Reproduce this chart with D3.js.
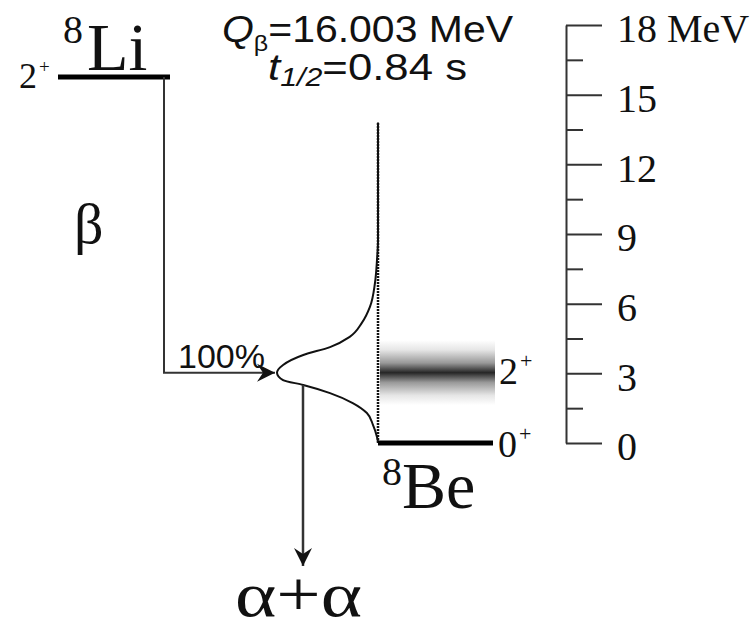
<!DOCTYPE html>
<html lang="en">
<head>
<meta charset="UTF-8">
<script src="https://d3js.org/d3.v7.min.js"></script>
<title>8Li beta decay</title>
<style>
  body { margin: 0; background: white; }
  .serif { font-family: 'Liberation Serif', 'Times New Roman', serif; fill: #111; }
  .sans { font-family: 'Liberation Sans', Arial, sans-serif; fill: #111; }
</style>
</head>
<body>
<svg id="chart" width="756" height="629"></svg>
<script>
  // energy scale (MeV)
  const majorTicks = [0, 3, 6, 9, 12, 15, 18];
  const minorTicks = [1.5, 4.5, 7.5, 10.5, 13.5, 16.5];

  // levels
  const liLevel = 15.76;          // 8Li 2+ line as drawn
  const liSpin = '2';
  const beLevels = [0, 3.03];      // 8Be 0+ and 2+
  const beSpins = ['0', '2'];
  const beBandHalf = 1.4;          // half extent of shaded 2+ band
  const continuumTop = 13.8;

  // beta-delayed spectrum, energy vs relative intensity
  const specE = [13.8, 8.74, 7.88, 6.89, 5.86, 5.17, 4.57, 4.13, 3.79, 3.36, 3.03, 2.71, 2.50, 2.15, 1.72, 1.29, 0.78, 0.26, 0.04];
  const specI = [0, 0, 0.01, 0.03, 0.08, 0.16, 0.28, 0.475, 0.74, 0.94, 1.0, 0.94, 0.74, 0.475, 0.25, 0.11, 0.05, 0.01, 0];
  const alphaStart = 2.5;

  const branch = '100%';
  const qValue = '=16.003 MeV';
  const halfLife = '=0.84 s';

  const svg = d3.select('#chart');

  const y = d3.scaleLinear().domain([0, 18]).range([443, 25]);
  const xI = d3.scaleLinear().domain([0, 1]).range([378, 277]);

  // defs
  const defs = svg.append('defs');
  defs.append('marker')
    .attr('id', 'arrow')
    .attr('markerUnits', 'userSpaceOnUse')
    .attr('viewBox', '-20 -10 22 20')
    .attr('markerWidth', 22).attr('markerHeight', 20)
    .attr('refX', 0).attr('refY', 0)
    .attr('orient', 'auto')
    .append('path')
    .attr('d', 'M0,0 L-18,-9 L-12,0 L-18,9 Z')
    .attr('fill', '#111');

  const grad = defs.append('linearGradient')
    .attr('id', 'band').attr('x1', 0).attr('y1', 0).attr('x2', 0).attr('y2', 1);
  [[0, '#fff'], [0.15, '#e6e6e6'], [0.35, '#999'], [0.5, '#262626'], [0.65, '#999'], [0.85, '#e6e6e6'], [1, '#fff']]
    .forEach(s => grad.append('stop').attr('offset', s[0]).attr('stop-color', s[1]));

  // energy axis
  const axisG = svg.append('g').attr('transform', 'translate(566,0)');
  axisG.call(d3.axisRight(y).tickValues(majorTicks).tickSize(36).tickSizeOuter(0).tickPadding(15)
    .tickFormat(d => d === 18 ? '18 MeV' : d));
  axisG.append('g').call(d3.axisRight(y).tickValues(minorTicks).tickSize(17).tickSizeOuter(0).tickFormat(''))
    .select('.domain').remove();
  axisG.selectAll('path, line').attr('stroke', '#333').attr('stroke-width', 2);
  axisG.selectAll('text')
    .attr('class', 'serif')
    .attr('font-size', 40)
    .attr('dy', '0.42em');
  axisG.attr('font-family', null).attr('font-size', null);

  // 8Be 2+ broad band
  svg.append('rect')
    .attr('x', 380).attr('width', 115)
    .attr('y', y(beLevels[1] + beBandHalf))
    .attr('height', y(beLevels[1] - beBandHalf) - y(beLevels[1] + beBandHalf))
    .attr('fill', 'url(#band)');

  // continuum (dotted)
  svg.append('line')
    .attr('x1', xI(0)).attr('x2', xI(0))
    .attr('y1', y(0)).attr('y2', y(continuumTop))
    .attr('stroke', '#111').attr('stroke-width', 2.5)
    .attr('stroke-dasharray', '2,1');

  // spectrum
  const line = d3.line()
    .x((d, i) => xI(specI[i]))
    .y(d => y(d))
    .curve(d3.curveMonotoneY);
  svg.append('path')
    .attr('d', line(specE))
    .attr('fill', 'none').attr('stroke', '#111').attr('stroke-width', 2);

  // 8Be ground state
  svg.append('line')
    .attr('x1', 378).attr('x2', 493)
    .attr('y1', y(beLevels[0])).attr('y2', y(beLevels[0]))
    .attr('stroke', '#000').attr('stroke-width', 5);

  // 8Li level
  svg.append('line')
    .attr('x1', 58).attr('x2', 170)
    .attr('y1', y(liLevel)).attr('y2', y(liLevel))
    .attr('stroke', '#000').attr('stroke-width', 5);

  // beta feeding
  svg.append('path')
    .attr('d', d3.line()([[164, y(liLevel)], [164, y(beLevels[1])], [xI(1) - 2, y(beLevels[1])]]))
    .attr('fill', 'none').attr('stroke', '#333').attr('stroke-width', 2)
    .attr('marker-end', 'url(#arrow)');

  // alpha breakup
  svg.append('line')
    .attr('x1', 303).attr('x2', 303)
    .attr('y1', y(alphaStart)).attr('y2', 566)
    .attr('stroke', '#333').attr('stroke-width', 2.5)
    .attr('marker-end', 'url(#arrow)');

  // labels
  function spinLabel(x, yy, val, size, supSize, supDy) {
    const lab = svg.append('text').attr('class', 'serif').attr('x', x).attr('y', yy).attr('font-size', size);
    lab.append('tspan').text(val);
    lab.append('tspan').text('+').attr('font-size', supSize).attr('dx', 2).attr('dy', supDy);
  }
  spinLabel(19, y(liLevel) + 11, liSpin, 36, 19, -15);
  spinLabel(499, y(beLevels[1]) + 11, beSpins[1], 38, 22, -16);
  spinLabel(498, y(beLevels[0]) + 14, beSpins[0], 38, 22, -16);

  svg.append('text').attr('class', 'serif').attr('x', 63).attr('y', 43).attr('font-size', 40).text('8');
  svg.append('text').attr('class', 'serif').attr('x', 87).attr('y', 70).attr('font-size', 68).text('Li');
  svg.append('text').attr('class', 'serif').attr('x', 382).attr('y', 485).attr('font-size', 40).text('8');
  svg.append('text').attr('class', 'serif').attr('x', 402).attr('y', 508).attr('font-size', 66).text('Be');

  svg.append('text').attr('class', 'serif').attr('x', 74).attr('y', 243).attr('font-size', 58).text('β');
  svg.append('text').attr('class', 'serif').attr('x', 235).attr('y', 616).attr('font-size', 64)
    .attr('textLength', 127).attr('lengthAdjust', 'spacingAndGlyphs').text('α+α');

  svg.append('text').attr('class', 'sans').attr('x', 178).attr('y', 368).attr('font-size', 33)
    .attr('textLength', 87).attr('lengthAdjust', 'spacingAndGlyphs').text(branch);

  const q = svg.append('text').attr('class', 'sans').attr('x', 222).attr('y', 42)
    .attr('font-size', 36).attr('textLength', 291).attr('lengthAdjust', 'spacingAndGlyphs');
  q.append('tspan').attr('font-style', 'italic').text('Q');
  q.append('tspan').attr('font-size', 22).attr('dy', 9).text('β');
  q.append('tspan').attr('dy', -9).text(qValue);

  const t = svg.append('text').attr('class', 'sans').attr('x', 268).attr('y', 80)
    .attr('font-size', 36).attr('textLength', 199).attr('lengthAdjust', 'spacingAndGlyphs');
  t.append('tspan').attr('font-style', 'italic').text('t');
  t.append('tspan').attr('font-style', 'italic').attr('font-size', 25).attr('dy', 6).text('1/2');
  t.append('tspan').attr('dy', -6).text(halfLife);
</script>
</body>
</html>
